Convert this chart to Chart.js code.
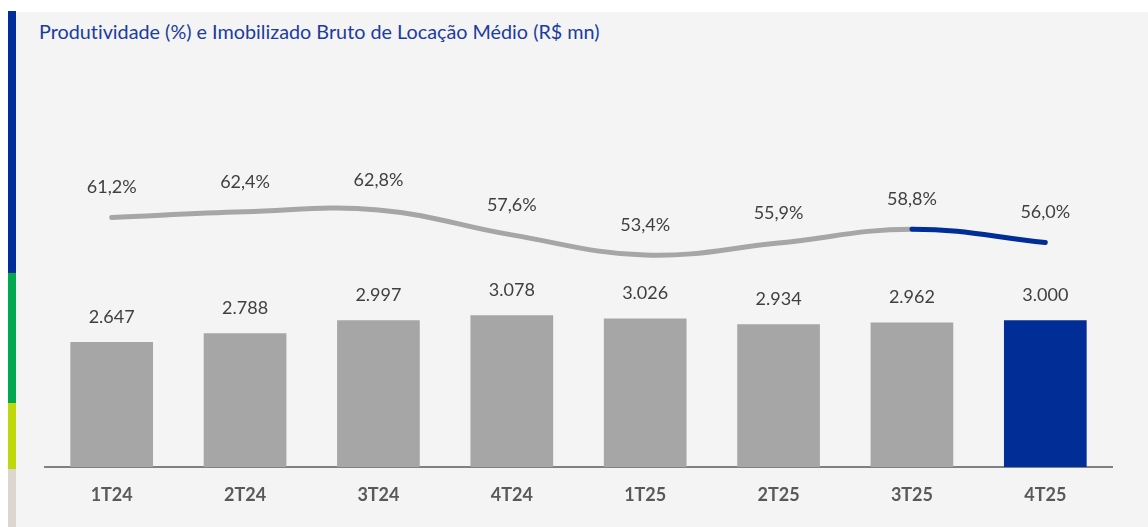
<!DOCTYPE html>
<html>
<head>
<meta charset="utf-8">
<script src="https://cdn.jsdelivr.net/npm/chart.js@4.4.1/dist/chart.umd.min.js"></script>
<style>
  html, body { margin: 0; padding: 0; background: #fff; }
  #page { position: relative; width: 1148px; height: 527px; overflow: hidden; background: #fff; }
  #panel { position: absolute; left: 16px; top: 12px; width: 1132px; height: 515px; background: #f4f4f4; }
  .stripe { position: absolute; left: 8px; width: 8px; }
  #title { position: absolute; left: 39px; top: 20px; font-family: Lato, sans-serif; font-size: 19.8px; line-height: 22px; color: #1c3c9e; white-space: nowrap; font-variant-ligatures: none; }
  #wrap { position: absolute; left: 16px; top: 12px; width: 1132px; height: 515px; }
</style>
</head>
<body>
<div id="page">
  <div id="panel"></div>
  <div class="stripe" style="top:11px;height:262px;background:#002d9a"></div>
  <div class="stripe" style="top:273px;height:130px;background:#00a94f"></div>
  <div class="stripe" style="top:403px;height:66px;background:#bfd80a"></div>
  <div class="stripe" style="top:469px;height:58px;background:#ddd5cf"></div>
  <div id="title">Produtividade (%) e Imobilizado Bruto de Locação Médio (R$ mn)</div>
  <div id="wrap"><canvas id="chart" width="1132" height="515"></canvas></div>
</div>
<script>
// dados
const quarters = ['1T24', '2T24', '3T24', '4T24', '1T25', '2T25', '3T25', '4T25'];
const imobilizado = [2647, 2788, 2997, 3078, 3026, 2934, 2962, 3000];
const produtividade = [61.2, 62.4, 62.8, 57.6, 53.4, 55.9, 58.8, 56.0];

const GREY = '#a6a6a6';
const BLUE = '#002d96';
const lastIdx = quarters.length - 1;

const barColors = quarters.map((q, i) => i === lastIdx ? BLUE : GREY);

// rótulos de valor desenhados à mão (sem plugin externo)
const valueLabels = {
  id: 'valueLabels',
  afterDatasetsDraw(chart) {
    const ctx = chart.ctx;
    ctx.save();
    ctx.font = '18px Lato, sans-serif';
    ctx.fillStyle = '#404040';
    ctx.textAlign = 'center';
    ctx.textBaseline = 'middle';
    chart.data.datasets.forEach((ds, di) => {
      const meta = chart.getDatasetMeta(di);
      meta.data.forEach((el, i) => {
        const v = ds.data[i];
        let txt, y;
        if (ds.type === 'line') {
          txt = v.toLocaleString('pt-BR', { minimumFractionDigits: 1, maximumFractionDigits: 1 }) + '%';
          y = el.y - 30;
        } else {
          txt = v.toLocaleString('pt-BR');
          y = el.y - 25;
        }
        ctx.fillText(txt, el.x, y);
      });
    });
    ctx.restore();
  }
};

new Chart(document.getElementById('chart'), {
  data: {
    labels: quarters,
    datasets: [
      {
        type: 'line',
        data: produtividade,
        yAxisID: 'y1',
        borderColor: GREY,
        borderWidth: 5,
        borderCapStyle: 'round',
        tension: 0.4,
        pointRadius: 0,
        segment: {
          borderColor: c => c.p0DataIndex === lastIdx - 1 ? BLUE : GREY
        }
      },
      {
        type: 'bar',
        data: imobilizado,
        yAxisID: 'y',
        backgroundColor: barColors,
        categoryPercentage: 1,
        barPercentage: 0.62
      }
    ]
  },
  options: {
    responsive: false,
    animation: false,
    layout: { padding: { left: 29, right: 36, top: 48, bottom: 0 } },
    plugins: { legend: { display: false }, tooltip: { enabled: false } },
    scales: {
      x: {
        grid: { display: false, drawTicks: false },
        border: { display: true, color: '#808080', width: 2 },
        ticks: { color: '#595959', font: { family: 'Lato', size: 18, weight: 'bold' }, padding: 17 },
        afterFit: s => { s.height = 60; }
      },
      y: { display: false, min: 630, max: 7200 },
      y1: { display: false, min: 9.3, max: 94 }
    }
  },
  plugins: [valueLabels]
});
</script>
</body>
</html>
